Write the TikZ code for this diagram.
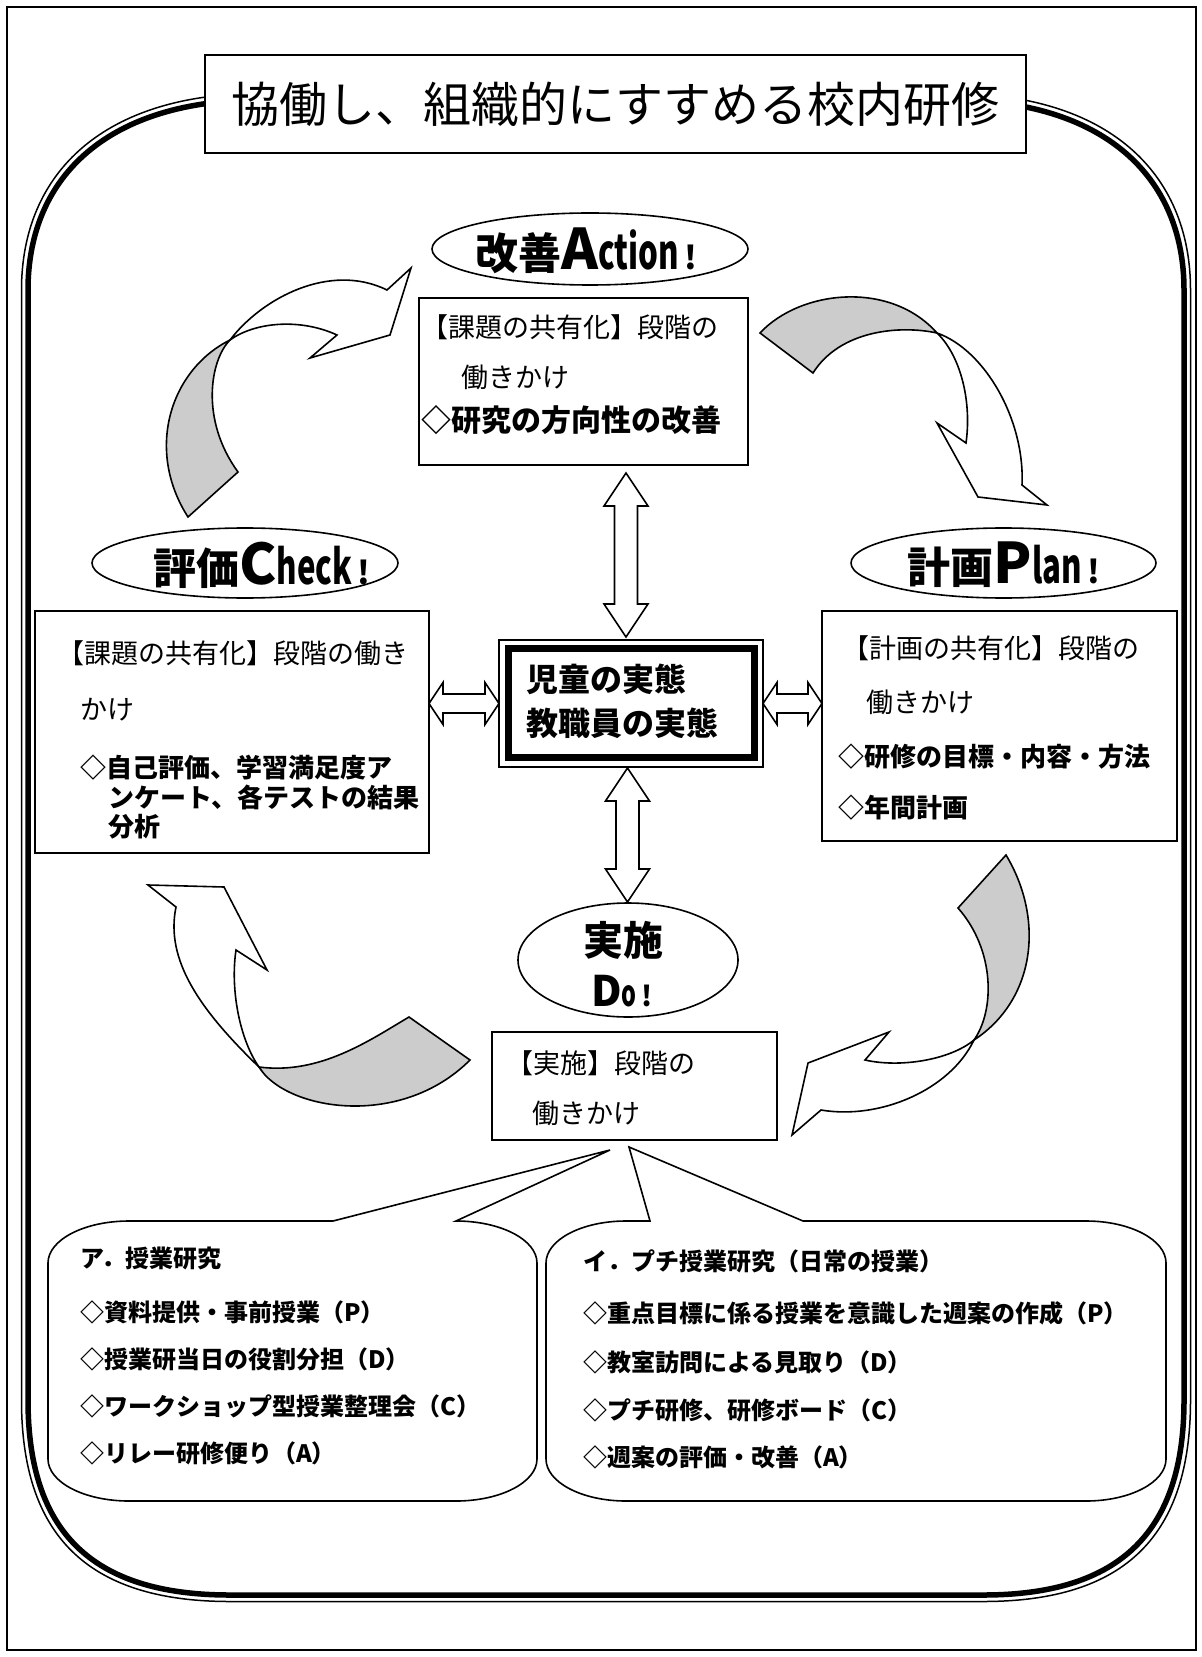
\documentclass[tikz,border=0pt]{standalone}
\usepackage{fontspec}
\usepackage{graphicx}
\setmainfont{Noto Sans CJK JP}
\usetikzlibrary{calc,shapes.geometric}
\newcommand\fsz[1]{\fontsize{#1pt}{#1pt}\selectfont}
\newcommand\nrw[1]{\scalebox{0.65}[1]{#1}}
\newcommand\vdbl[2]{\draw[blk] (#1) -- ($(#1)+(22,33)$) -- ($(#1)+(11.5,33)$) -- ($(#2)+(11.5,-33)$) -- ($(#2)+(22,-33)$) -- (#2) -- ($(#2)+(-22,-33)$) -- ($(#2)+(-11.5,-33)$) -- ($(#1)+(-11.5,33)$) -- ($(#1)+(-22,33)$) -- cycle;}
\newcommand\hdbl[2]{\draw[blk] (#1) -- ($(#1)+(14,-21)$) -- ($(#1)+(14,-9.5)$) -- ($(#2)+(-14,-9.5)$) -- ($(#2)+(-14,-21)$) -- (#2) -- ($(#2)+(-14,21)$) -- ($(#2)+(-14,9.5)$) -- ($(#1)+(14,9.5)$) -- ($(#1)+(14,21)$) -- cycle;}
\begin{document}
\begin{tikzpicture}[x=0.5pt,y=-0.5pt,
  every node/.style={inner sep=0pt, outer sep=0pt},
  boxn/.style={draw, line width=1.1pt, fill=white, anchor=north west},
  ell/.style={draw, ellipse, line width=0.8pt, fill=white},
  lt/.style={anchor=west, font=\fsz{13.5}},
  bd/.style={anchor=west, font=\fsz{13}\bfseries},
  bb/.style={anchor=west, font=\fsz{12}\bfseries},
  blk/.style={draw, line width=0.8pt, fill=white, line join=miter},
  fold/.style={draw, line width=0.8pt, fill=gray!40, line join=miter},
  band/.style={draw, line width=0.8pt, fill=white, line join=miter},
  bubble/.style={draw, line width=0.8pt, fill=white},
]
\useasboundingbox (0,0) rectangle (1201,1657);
% page border
\draw[line width=1pt] (7,7) rectangle (1196,1650);
% big double frame
\draw[line width=0.75pt] (21.5,290) .. controls (21.5,171) and (106,93.5) .. (260,93.5) -- (952,93.5) .. controls (1106,93.5) and (1190.5,171) .. (1190.5,290) -- (1190.5,1400) .. controls (1190.5,1534) and (1127,1601.5) .. (983,1601.5) -- (230,1601.5) .. controls (86,1601.5) and (21.5,1534) .. (21.5,1400) -- cycle;
\draw[line width=2.75pt] (28,290) .. controls (28,175) and (110,100) .. (260,100) -- (952,100) .. controls (1102,100) and (1184,175) .. (1184,290) -- (1184,1400) .. controls (1184,1530) and (1122,1595) .. (983,1595) -- (230,1595) .. controls (90,1595) and (28,1530) .. (28,1400) -- cycle;
% title
\node[draw, line width=1.1pt, fill=white, minimum width=410.5pt, minimum height=49pt, font=\fsz{24}] (title) at (615.5,104) {協働し、組織的にすすめる校内研修};

% curved arrows
\draw[fold] (188,517) .. controls (145,450) and (170,370) .. (230,340) .. controls (210,360) and (200,420) .. (238,472) -- cycle;
\draw[band] (230,340) .. controls (262,298) and (330,262) .. (387,290) -- (411,268) -- (390,335) -- (310,358) -- (337,335) .. controls (300,318) and (255,322) .. (230,340) -- cycle;
\draw[fold] (760,333) .. controls (800,290) and (890,280) .. (937,333) .. controls (900,325) and (840,330) .. (813,373) -- cycle;
\draw[band] (937,333) .. controls (985,350) and (1025,420) .. (1022,485) -- (1047,505) -- (978,497) -- (937,423) -- (966,443) .. controls (972,400) and (960,355) .. (937,333) -- cycle;
\draw[fold] (1006,855) .. controls (1045,920) and (1035,1000) .. (974,1040) .. controls (995,1010) and (995,950) .. (958,908) -- cycle;
\draw[band] (974,1040) .. controls (950,1090) and (880,1120) .. (821,1110) -- (792,1135) -- (808,1063) -- (889,1032) -- (865,1060) .. controls (900,1068) and (950,1060) .. (974,1040) -- cycle;
\draw[fold] (409,1017) .. controls (370,1040) and (320,1075) .. (259,1067) .. controls (285,1110) and (400,1130) .. (470,1060) -- cycle;
\draw[band] (259,1067) .. controls (200,1010) and (165,960) .. (176,907) -- (148,885) -- (224,887) -- (267,970) -- (236,950) .. controls (230,990) and (240,1040) .. (259,1067) -- cycle;

% ellipses
\node[ell, minimum width=158pt, minimum height=36pt] (actE) at (590,249) {};
\node (actT) at (586,251) {\fsz{21.5}\bfseries 改善{\fsz{28}A}{\fsz{24}\nrw{ction}}{\fsz{16}\,!}};
\node[ell, minimum width=153pt, minimum height=35pt] (chkE) at (245,563) {};
\node (chkT) at (262,565) {\fsz{21.5}\bfseries 評価{\fsz{28}C}{\fsz{24}\nrw{heck}}{\fsz{16}\,!}};
\node[ell, minimum width=152.5pt, minimum height=35pt] (plnE) at (1003.5,563) {};
\node (plnT) at (1004,565) {\fsz{21.5}\bfseries 計画{\fsz{28}P}{\fsz{24}\nrw{lan}}{\fsz{16}\,!}};
\node[ell, minimum width=110pt, minimum height=57pt] (doE) at (628,960) {};
\node (doT1) at (623,940) {\fsz{20}\bfseries 実施};
\node (doT2) at (622,991) {\bfseries{\fsz{21}D}{\fsz{18}\nrw{o}}{\fsz{14}\,!}};

% boxes
\node[boxn, minimum width=164.5pt, minimum height=83.5pt] (actbox) at (419,298) {};
\node[lt] (act1) at (421,327) {【課題の共有化】段階の};
\node[lt] (act2) at (461,377) {働きかけ};
\node[anchor=west, font=\fsz{15}\bfseries] (act3) at (421,420) {◇研究の方向性の改善};

\node[boxn, minimum width=197pt, minimum height=121pt] (chkbox) at (35,611) {};
\node[lt] (chk1) at (57,653) {【課題の共有化】段階の働き};
\node[lt] (chk2) at (80,710) {かけ};
\node[bd] (chk3) at (80,768) {◇自己評価、学習満足度ア};
\node[bd] (chk4) at (108,797) {ンケート、各テストの結果};
\node[bd] (chk5) at (108,827) {分析};

\node[boxn, minimum width=177.5pt, minimum height=115pt] (plnbox) at (822,611) {};
\node[lt] (pln1) at (842,648) {【計画の共有化】段階の};
\node[lt] (pln2) at (866,702) {働きかけ};
\node[bd] (pln3) at (838,757) {◇研修の目標・内容・方法};
\node[bd] (pln4) at (838,808) {◇年間計画};

\node[boxn, minimum width=142.5pt, minimum height=54pt] (dobox) at (492,1032) {};
\node[lt] (do1) at (506,1063) {【実施】段階の};
\node[lt] (do2) at (532,1113) {働きかけ};

% center box
\node[draw, line width=0.75pt, fill=white, minimum width=132pt, minimum height=63.5pt] (ctr) at (631,703.5) {};
\draw[line width=3.5pt] ($(ctr.north west)+(9.5,8.5)$) rectangle ($(ctr.south east)+(-8.5,-9.5)$);
\node[anchor=west, font=\fsz{16}\bfseries] (ctr1) at (526,679) {児童の実態};
\node[anchor=west, font=\fsz{16}\bfseries] (ctr2) at (526,723) {教職員の実態};

% double block arrows
\coordinate (v1t) at ($(actbox.south)+(42.5,8)$);
\coordinate (v1b) at ($(ctr.north)+(-5,-3)$);
\coordinate (v2t) at ($(ctr.south)+(-3.5,1)$);
\coordinate (v2b) at ($(doE.north)+(-0.5,-1)$);
\vdbl{v1t}{v1b}
\vdbl{v2t}{v2b}
\coordinate (h1l) at (chkbox.east |- ctr.west);
\coordinate (h1r) at (ctr.west);
\coordinate (h2l) at (ctr.east);
\coordinate (h2r) at (plnbox.west |- ctr.east);
\hdbl{h1l}{h1r}
\hdbl{h2l}{h2r}

% speech bubbles
\draw[bubble] (333,1221) -- (610,1150) -- (456,1221) arc[start angle=-90, end angle=0, x radius=81, y radius=42] -- (537,1459) arc[start angle=0, end angle=90, x radius=81, y radius=42] -- (129,1501) arc[start angle=90, end angle=180, x radius=81, y radius=42] -- (48,1263) arc[start angle=180, end angle=270, x radius=81, y radius=42] -- cycle;
\draw[bubble] (650,1221) -- (629,1147) -- (803,1221) -- (1086,1221) arc[start angle=-90, end angle=0, x radius=80, y radius=42] -- (1166,1459) arc[start angle=0, end angle=90, x radius=80, y radius=42] -- (626,1501) arc[start angle=90, end angle=180, x radius=80, y radius=42] -- (546,1263) arc[start angle=180, end angle=270, x radius=80, y radius=42] -- cycle;

\node[bb] (la0) at (80,1258) {ア．授業研究};
\node[bb] (la1) at (80,1312) {◇資料提供・事前授業（P）};
\node[bb] (la2) at (80,1359) {◇授業研当日の役割分担（D）};
\node[bb] (la3) at (80,1406) {◇ワークショップ型授業整理会（C）};
\node[bb] (la4) at (80,1453) {◇リレー研修便り（A）};

\node[bb] (ri0) at (583,1261) {イ．プチ授業研究（日常の授業）};
\node[bb] (ri1) at (583,1313) {◇重点目標に係る授業を意識した週案の作成（P）};
\node[bb] (ri2) at (583,1362) {◇教室訪問による見取り（D）};
\node[bb] (ri3) at (583,1410) {◇プチ研修、研修ボード（C）};
\node[bb] (ri4) at (583,1457) {◇週案の評価・改善（A）};
\end{tikzpicture}
\end{document}
